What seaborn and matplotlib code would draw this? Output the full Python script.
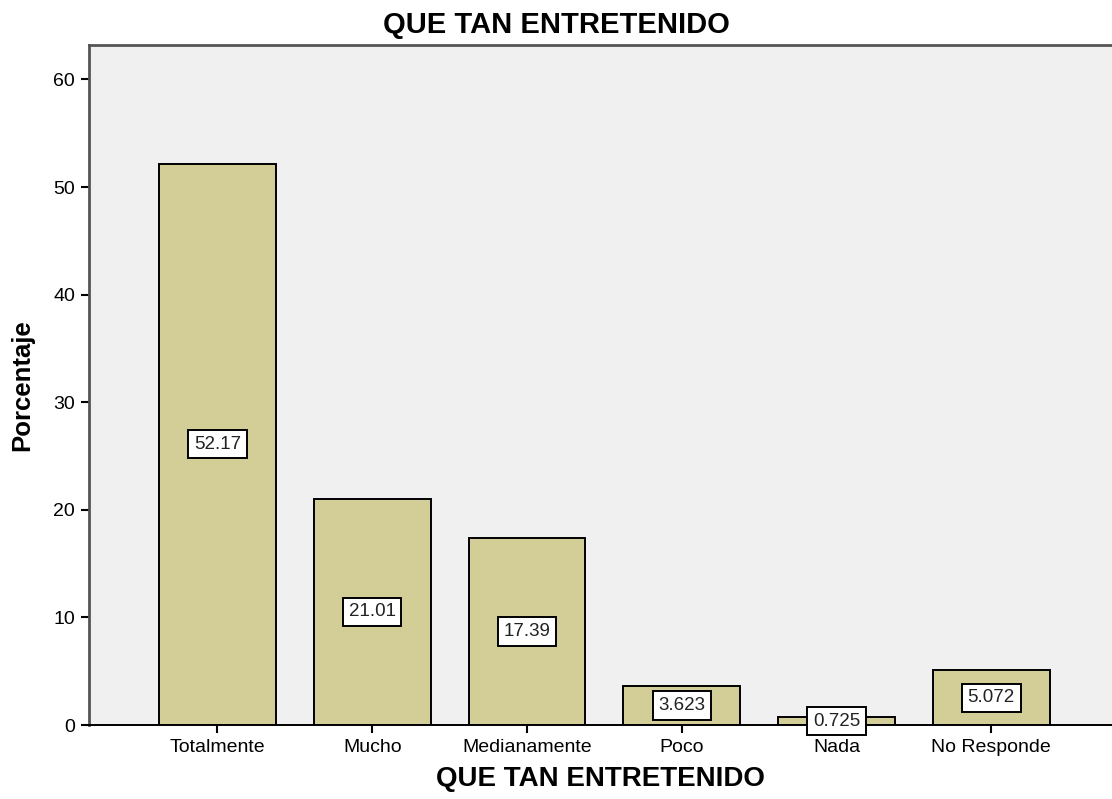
import matplotlib
matplotlib.use("Agg")
import matplotlib.pyplot as plt
import seaborn as sns
import pandas as pd

categorias = ["Totalmente", "Mucho", "Medianamente", "Poco", "Nada", "No Responde"]
porcentajes = [52.17, 21.01, 17.39, 3.623, 0.725, 5.072]
etiquetas = ["52.17", "21.01", "17.39", "3.623", "0.725", "5.072"]
y_ticks = [0, 10, 20, 30, 40, 50, 60]

sns.set_style("white")
plt.rcParams["font.family"] = ["Liberation Sans", "DejaVu Sans"]
plt.rcParams["text.color"] = "black"
plt.rcParams["axes.labelcolor"] = "black"

df = pd.DataFrame({"categoria": categorias, "porcentaje": porcentajes})

fig = plt.figure(figsize=(11.12, 7.99), dpi=100)
ax = fig.add_axes([0.080, 0.0926, 0.920, 0.851])
ax.set_facecolor("#F0F0F0")

sns.barplot(data=df, x="categoria", y="porcentaje", order=categorias,
            color="#D3CE97", edgecolor="black", linewidth=1.4,
            width=0.755, saturation=1, ax=ax)

for i, (v, t) in enumerate(zip(porcentajes, etiquetas)):
    ax.text(i, v / 2, t, ha="center", va="center", fontsize=13.5,
            color="#222222",
            bbox=dict(boxstyle="square,pad=0.3", facecolor="white",
                      edgecolor="black", linewidth=1.4))

ax.set_xlim(-0.83, 5.78)
ax.set_ylim(0, 63.2)
ax.set_yticks(y_ticks)
ax.tick_params(axis="both", direction="out", length=6, width=1.5,
               colors="black", labelsize=14, bottom=True, left=True, pad=4)
for side in ["left", "top"]:
    ax.spines[side].set_color("#555555")
    ax.spines[side].set_linewidth(2)
ax.spines["bottom"].set_color("black")
ax.spines["bottom"].set_linewidth(1.4)
ax.spines["right"].set_visible(False)

# title is centred on the figure, not the axes
fig.suptitle("QUE TAN ENTRETENIDO", fontsize=21, fontweight="bold",
             x=0.5, y=0.969, va="center")
ax.set_xlabel("QUE TAN ENTRETENIDO", fontsize=20, fontweight="bold", labelpad=7)
ax.set_ylabel("Porcentaje", fontsize=18.5, fontweight="bold", labelpad=14)

fig.savefig("out.png", dpi=100)
